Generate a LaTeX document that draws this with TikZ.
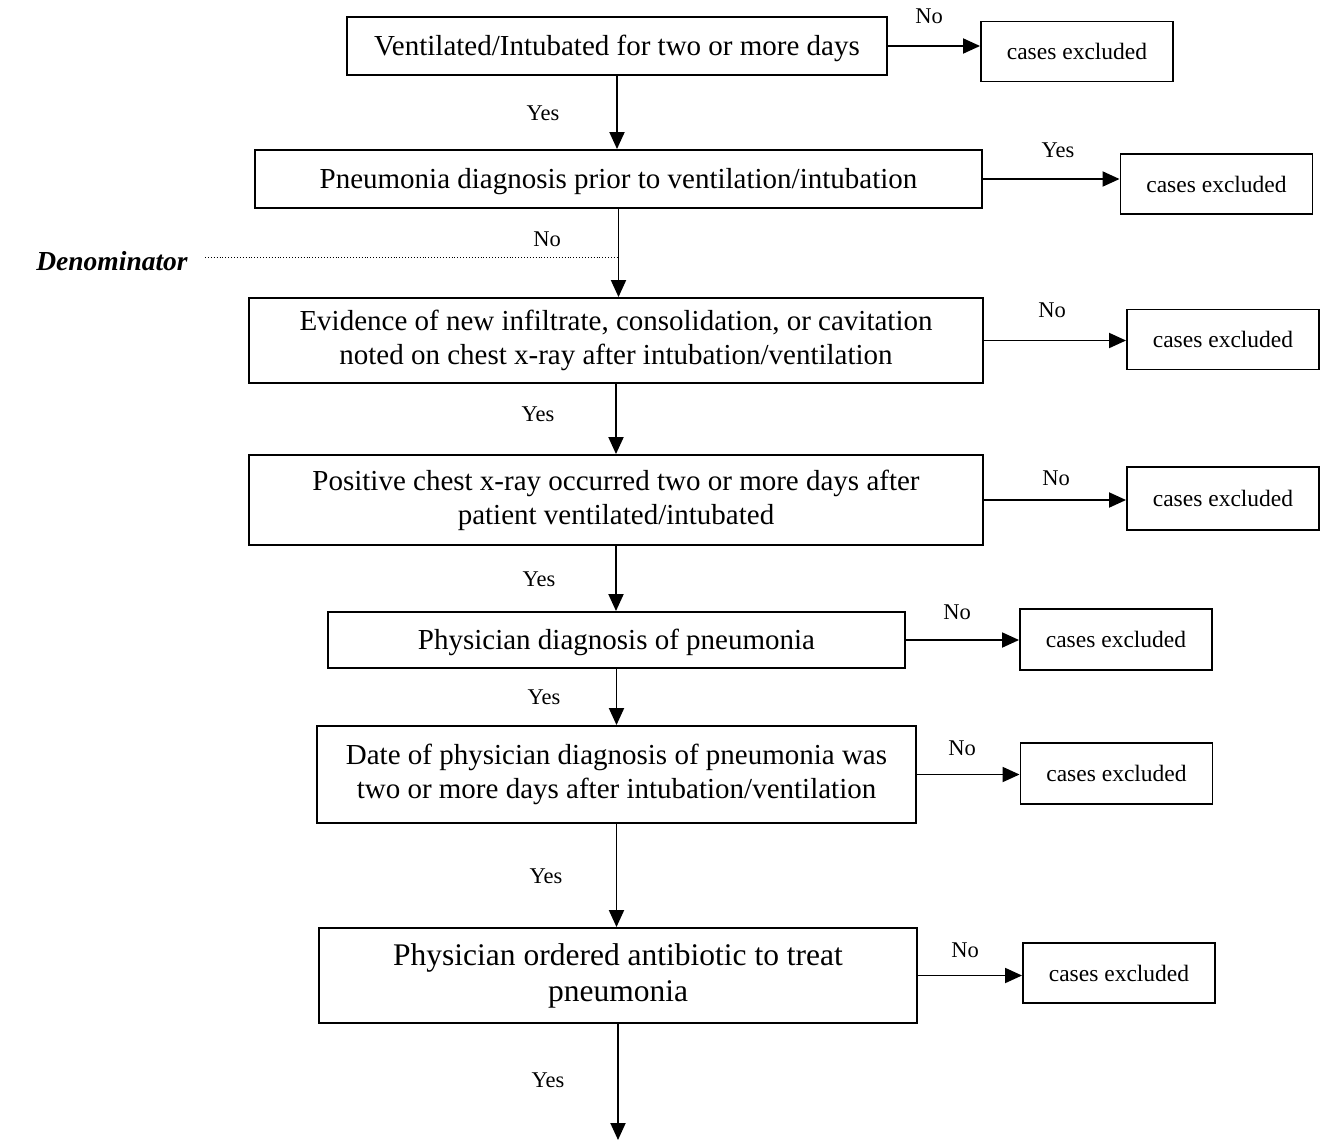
\documentclass[tikz,border=0pt]{standalone}
\usepackage{fontspec}
\setmainfont{Liberation Serif}
\usetikzlibrary{arrows.meta}
\begin{document}
\begin{tikzpicture}[x=1pt,y=-1pt,
  box/.style={draw, line width=1.9pt, inner sep=0pt, align=center,
    font=\fontsize{29}{34}\selectfont},
  oneline/.style={text depth=2pt},
  exbox/.style={draw, line width=1.9pt, inner sep=0pt, align=center,
    minimum width=192pt, minimum height=60pt, font=\fontsize{23.5}{28}\selectfont},
  lbl/.style={inner sep=0pt, font=\fontsize{22.5}{26}\selectfont},
  arr/.style={line width=1.9pt, -{Triangle[length=17pt,width=15pt]}},
]
\useasboundingbox (0,0) rectangle (1323,1144);

% main decision boxes
\node[box, oneline, minimum width=540pt, minimum height=58pt] (b1) at (617,46) {Ventilated/Intubated for two or more days};
\node[box, oneline, minimum width=727pt, minimum height=58pt] (b2) at (618.5,179) {Pneumonia diagnosis prior to ventilation/intubation};
\node[box, minimum width=734pt, minimum height=85pt] (b3) at (616,340.5) {Evidence of new infiltrate, consolidation, or cavitation\\noted on chest x-ray after intubation/ventilation};
\node[box, minimum width=734pt, minimum height=90pt] (b4) at (616,500) {Positive chest x-ray occurred two or more days after\\patient ventilated/intubated};
\node[box, oneline, minimum width=577pt, minimum height=56pt] (b5) at (616.5,640) {Physician diagnosis of pneumonia};
\node[box, minimum width=599pt, minimum height=97pt] (b6) at (616.5,774.5) {Date of physician diagnosis of pneumonia was\\two or more days after intubation/ventilation};
\node[box, minimum width=598pt, minimum height=95pt, font=\fontsize{31.5}{36}\selectfont] (b7) at (618,975.5) {Physician ordered antibiotic to treat\\pneumonia};

% exclusion boxes
\node[exbox] (e1) at (1077,51.5) {cases excluded};
\node[exbox] (e2) at (1216.5,184) {cases excluded};
\node[exbox] (e3) at (1223,339.5) {cases excluded};
\node[exbox, minimum height=63pt] (e4) at (1223,498.5) {cases excluded};
\node[exbox, minimum height=61pt] (e5) at (1116,639.5) {cases excluded};
\node[exbox, minimum height=61pt] (e6) at (1116.5,773.5) {cases excluded};
\node[exbox] (e7) at (1119,973) {cases excluded};

% main flow
\draw[arr] (b1.south) -- (b1.south |- b2.north);
\draw[arr] (b2.south) -- (b2.south |- b3.north);
\draw[arr] (b3.south) -- (b3.south |- b4.north);
\draw[arr] (b4.south) -- (b4.south |- b5.north);
\draw[arr] (b5.south) -- (b5.south |- b6.north);
\draw[arr] (b6.south) -- (b6.south |- b7.north);
\coordinate (end) at (618,1140);
\draw[arr] (b7.south) -- (b7.south |- end);

% exclusion branches
\draw[arr] (b1.east) -- (b1.east -| e1.west);
\draw[arr] (b2.east) -- (b2.east -| e2.west);
\draw[arr] (b3.east) -- (b3.east -| e3.west);
\draw[arr] (b4.east) -- (b4.east -| e4.west);
\draw[arr] (b5.east) -- (b5.east -| e5.west);
\draw[arr] (b6.east) -- (b6.east -| e6.west);
\draw[arr] (b7.east) -- (b7.east -| e7.west);

% denominator marker
\node[inner sep=0pt, font=\fontsize{27.5}{30}\selectfont\bfseries\itshape] (den) at (112,261) {Denominator};
\coordinate (dn) at (205,257);
\draw[line width=0.9pt, dotted] (dn) -- (dn -| b2.south);

% branch labels
\node[lbl] (y1) at (543,113) {Yes};
\node[lbl] (n1) at (929,16) {No};
\node[lbl] (y2) at (1058,150) {Yes};
\node[lbl] (n2) at (547,239) {No};
\node[lbl] (n3) at (1052,310) {No};
\node[lbl] (y3) at (538,414) {Yes};
\node[lbl] (n4) at (1056,478) {No};
\node[lbl] (y4) at (539,579) {Yes};
\node[lbl] (n5) at (957,612) {No};
\node[lbl] (y5) at (544,697) {Yes};
\node[lbl] (n6) at (962,748) {No};
\node[lbl] (y6) at (546,876) {Yes};
\node[lbl] (n7) at (965,950) {No};
\node[lbl] (y7) at (548,1080) {Yes};
\end{tikzpicture}
\end{document}
